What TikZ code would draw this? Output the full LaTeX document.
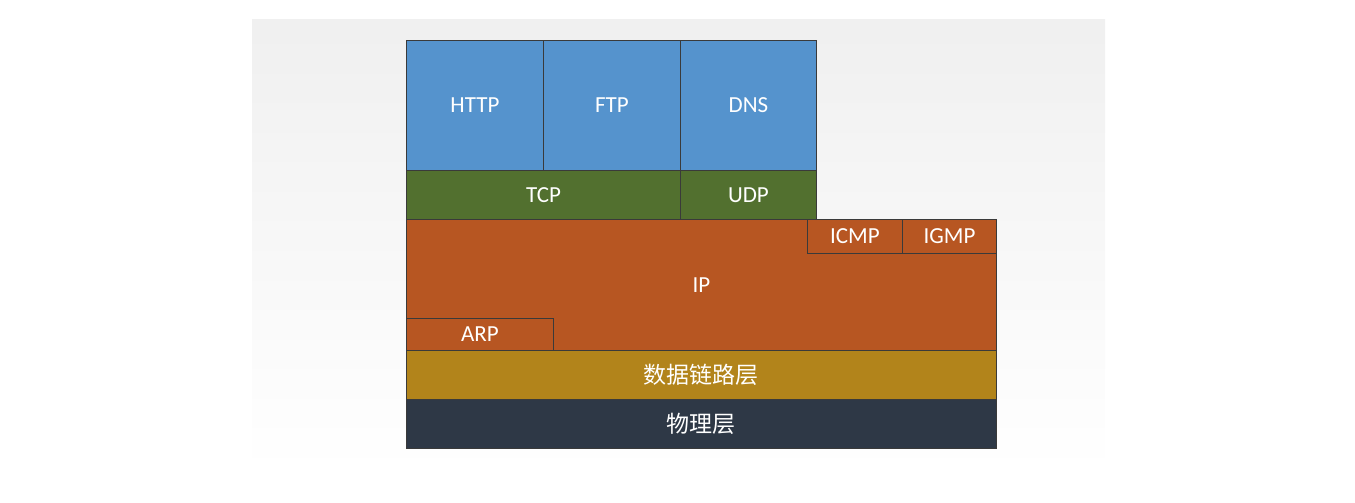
\documentclass[tikz,border=0pt]{standalone}
\usepackage{fontspec}
\setmainfont{Carlito}
\newfontfamily\cjk{Noto Sans CJK SC}
\definecolor{appblue}{HTML}{5593CD}
\definecolor{tpgreen}{HTML}{52702F}
\definecolor{iporange}{HTML}{B75622}
\definecolor{linkgold}{HTML}{B2841B}
\definecolor{physdark}{HTML}{2E3846}
\definecolor{edgegray}{HTML}{3A3A3A}
\tikzset{
  layer/.style={draw=edgegray, line width=0.9pt, anchor=north west, inner sep=0pt,
    text=white, font=\fontsize{23}{27}\selectfont},
  cjklayer/.style={layer, font=\cjk\fontsize{23}{27}\selectfont},
}
\begin{document}
\begin{tikzpicture}[x=1pt, y=-1pt]
    \useasboundingbox (0,0) rectangle (1355,503);
    % 背景
    \shade[top color=black!6, bottom color=white] (252,20) rectangle (1105,472);

    % 应用层
    \node[layer, fill=appblue, minimum width=137pt, minimum height=130pt] (http) at (406,40) {HTTP};
    \node[layer, fill=appblue, minimum width=137pt, minimum height=130pt] (ftp) at (543,40) {FTP};
    \node[layer, fill=appblue, minimum width=136pt, minimum height=130pt] (dns) at (680,40) {DNS};

    % 传输层
    \node[layer, fill=tpgreen, minimum width=274pt, minimum height=49pt] (tcp) at (406,170) {TCP};
    \node[layer, fill=tpgreen, minimum width=136pt, minimum height=49pt] (udp) at (680,170) {UDP};

    % 网络层
    \node[layer, fill=iporange, minimum width=590pt, minimum height=131pt] (ip) at (406,219) {IP};
    \node[layer, fill=iporange, minimum width=95pt, minimum height=34pt] (icmp) at (807,219) {ICMP};
    \node[layer, fill=iporange, minimum width=94pt, minimum height=34pt] (igmp) at (902,219) {IGMP};
    \node[layer, fill=iporange, minimum width=147pt, minimum height=32pt] (arp) at (406,318) {ARP};

    % 数据链路层、物理层
    \node[cjklayer, fill=linkgold, minimum width=590pt, minimum height=49pt] (link) at (406,350) {数据链路层};
    \node[cjklayer, fill=physdark, minimum width=590pt, minimum height=49pt] (phys) at (406,399) {物理层};
\end{tikzpicture}
\end{document}
